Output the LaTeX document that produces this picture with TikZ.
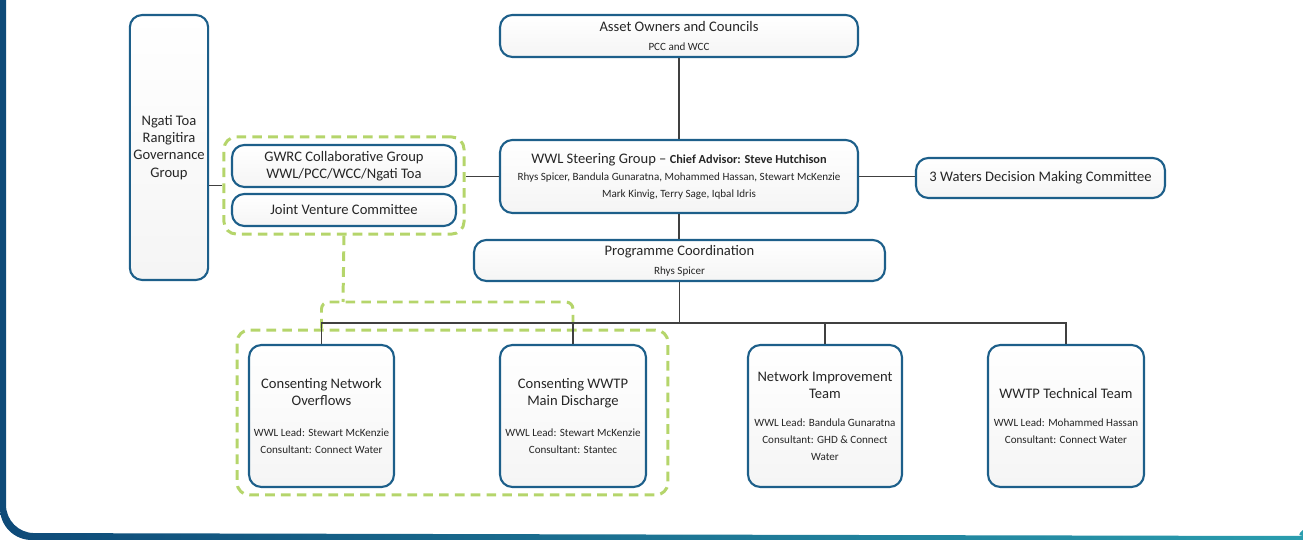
\documentclass[tikz,border=0pt]{standalone}
\usepackage{fontspec}
\setmainfont{Carlito}
\usetikzlibrary{fit}

\definecolor{boxblue}{HTML}{1D5F8A}
\definecolor{framedark}{HTML}{0E4A78}
\definecolor{frameteal}{HTML}{2A9DAE}
\definecolor{dashgreen}{HTML}{B5D56B}
\definecolor{linegray}{HTML}{404040}
\definecolor{txtgray}{HTML}{262626}

\newcommand{\ttl}{\fontsize{8.3}{9.8}\selectfont}
\newcommand{\sml}{\fontsize{6.3}{9}\selectfont}

\tikzset{
  orgbox/.style={draw=boxblue, line width=1.2pt, rounded corners=7pt,
    top color=white, bottom color=black!4, text=txtgray,
    align=center, inner sep=2pt, font=\ttl},
  teambox/.style={orgbox, minimum height=2.84cm},
  grpdash/.style={draw=dashgreen, line width=1.7pt,
    dash pattern=on 5.5pt off 3.5pt, rounded corners=7pt},
  link/.style={draw=linegray, line width=0.6pt},
}

\begin{document}
\begin{tikzpicture}[x=0.02cm, y=-0.02cm]
  \useasboundingbox (0,0) rectangle (1303,540);

  % page frame
  \shade[left color=framedark, right color=frameteal]
    (0,0) -- (6,0) {[rounded corners=16pt] -- (6,533) -- (1284,536)}
    .. controls (1294,536) and (1299,534) .. (1303,530)
    -- (1303,540) {[rounded corners=18pt] -- (0,540) -- (0,270)} -- cycle;

  % governance side
  \node[orgbox, minimum width=1.56cm, minimum height=5.3cm] (ngati) at (169,147.5)
    {Ngati Toa\\Rangitira\\Governance\\Group};
  \node[orgbox, minimum width=4.48cm, minimum height=0.84cm] (gwrc) at (344,166)
    {GWRC Collaborative Group\\WWL/PCC/WCC/Ngati Toa};
  \node[orgbox, minimum width=4.48cm, minimum height=0.64cm] (jvc) at (344,210)
    {Joint Venture Committee};
  \node[grpdash, fit=(gwrc)(jvc), inner sep=0.14cm] (collab) {};

  % main column
  \node[orgbox, minimum width=7.16cm, minimum height=0.84cm] (asset) at (679,36)
    {Asset Owners and Councils\\[0.5pt]{\sml PCC and WCC}};
  \node[orgbox, minimum width=7.16cm, minimum height=1.46cm] (steer) at (679,176.5)
    {WWL Steering Group – {\fontsize{7}{9}\selectfont\bfseries Chief Advisor: Steve Hutchison}\\
     {\sml Rhys Spicer, Bandula Gunaratna, Mohammed Hassan, Stewart McKenzie}\\
     {\sml Mark Kinvig, Terry Sage, Iqbal Idris}};
  \node[orgbox, minimum width=4.98cm, minimum height=0.8cm] (waters) at (1040.5,178)
    {3 Waters Decision Making Committee};
  \node[orgbox, minimum width=8.22cm, minimum height=0.82cm] (prog) at (679.5,260.5)
    {Programme Coordination\\[1pt]{\sml Rhys Spicer}};

  % workstreams
  \node[grpdash, minimum width=8.62cm, minimum height=3.3cm] (consent) at (452.5,412.5) {};
  \node[teambox, minimum width=2.9cm] (cno) at (321.5,416)
    {Consenting Network\\Overflows\\[8pt]{\sml WWL Lead: Stewart McKenzie}\\{\sml Consultant: Connect Water}};
  \node[teambox, minimum width=2.92cm] (cwwtp) at (573,416)
    {Consenting WWTP\\Main Discharge\\[8pt]{\sml WWL Lead: Stewart McKenzie}\\{\sml Consultant: Stantec}};
  \node[teambox, minimum width=3.08cm] (nit) at (825,416)
    {Network Improvement\\Team\\[6pt]{\sml WWL Lead: Bandula Gunaratna}\\{\sml Consultant: GHD \& Connect}\\{\sml Water}};
  \node[teambox, minimum width=3.12cm] (wwtp) at (1066,416)
    {WWTP Technical Team\\[6pt]{\sml WWL Lead: Mohammed Hassan}\\{\sml Consultant: Connect Water}};

  % dashed link between the groups
  \coordinate (brk) at (343,302);
  \draw[grpdash, rounded corners=4pt] (collab.south) -- (brk);
  \draw[grpdash, rounded corners=4pt] (cno.north |- consent.north) |- (brk)
    -| (cwwtp.north |- consent.north);

  % reporting lines
  \draw[link] (asset) -- (steer);
  \draw[link] (steer.south) -- (steer.south |- prog.north);
  \draw[link] (steer.west) -- (steer.west -| collab.east);
  \draw[link] (steer.east) -- (steer.east -| waters.west);
  \draw[link] (collab.west -| ngati.east) -- (collab.west);
  \coordinate (bus) at (prog.south |- 0,323);
  \draw[link] (prog.south) -- (bus);
  \draw[link] (cno.north) |- (bus) -| (wwtp.north);
  \draw[link] (cwwtp.north) -- (cwwtp.north |- bus);
  \draw[link] (nit.north) -- (nit.north |- bus);
\end{tikzpicture}
\end{document}
